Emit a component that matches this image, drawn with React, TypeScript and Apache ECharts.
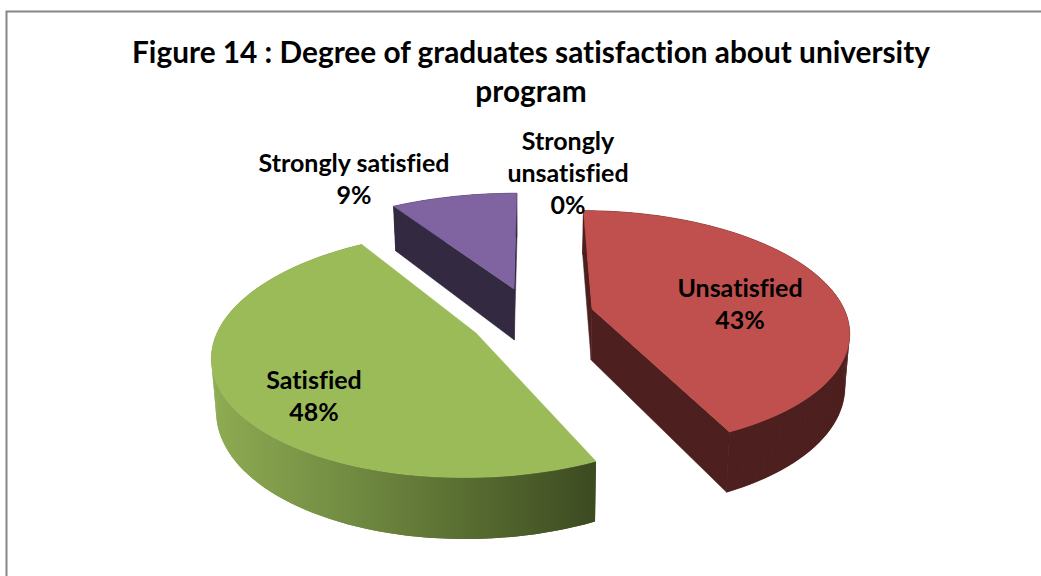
import React, { useEffect, useRef } from "react";
import * as echarts from "echarts";

const categories = ["Strongly unsatisfied", "Unsatisfied", "Satisfied", "Strongly satisfied"];
const shares = [0, 43, 48, 9];
const labelLines = [["Strongly", "unsatisfied"], ["Unsatisfied"], ["Satisfied"], ["Strongly satisfied"]];
const titleText = "Figure 14 : Degree of graduates satisfaction about university\nprogram";

const topColors = ["#4F81BD", "#C0504D", "#9BBB59", "#8064A2"];
const wallColors: any[] = [
  "#254061",
  "#4D1F1E",
  {
    type: "linear", x: 212, y: 0, x2: 597, y2: 0, global: true,
    colorStops: [
      { offset: 0, color: "#8FAB52" },
      { offset: 0.35, color: "#728C42" },
      { offset: 0.7, color: "#55692F" },
      { offset: 1, color: "#3C4A20" },
    ],
  },
  "#332941",
];
const cutColors = ["#254061", "#4D1F1E", "#3C4A20", "#332941"];
const labelAnchors = [[568, 172], [740, 303], [314, 395], [354, 178]];

// Exploded position and on-screen size of each wedge (perspective makes nearer wedges larger).
const wedgeCentres = [[533, 318], [592, 309], [476, 333], [514, 289]];
const wedgeRadiusX = [262, 252, 259, 262];
const wedgeRadiusY = [112, 115, 120, 112];
const PERSP = 0.17, DEPTH = 51, VX = 533, BASE_SCALE = 0.985;
const TOTAL = shares.reduce((a, b) => a + b, 0);

function project(i: number, deg: number, r: number, low: boolean): number[] {
  const [ax, ay] = wedgeCentres[i];
  const t = (deg * Math.PI) / 180;
  const u = Math.sin(t) * r;
  const v = -Math.cos(t) * r;
  const s = 1 / (1 - PERSP * v);
  let x = ax + wedgeRadiusX[i] * u * s + (ax - VX) * (s - 1);
  let y = ay + wedgeRadiusY[i] * v * s;
  if (low) {
    y += DEPTH * s;
    x = VX + (x - VX) * BASE_SCALE;
  }
  return [x, y];
}

function renderSlice(params: any, api: any) {
  const i = params.dataIndex;
  const value = api.value(0);
  const startShare = shares.slice(0, i).reduce((a, b) => a + b, 0);
  const a0 = (startShare / TOTAL) * 360;
  const a1 = ((startShare + value) / TOTAL) * 360;
  const children: any[] = [];
  if (value > 0) {
    const arcTop: number[][] = [];
    const arcLow: number[][] = [];
    const steps = Math.max(8, Math.round((a1 - a0) / 2));
    for (let k = 0; k <= steps; k++) {
      const d = a0 + ((a1 - a0) * k) / steps;
      arcTop.push(project(i, d, 1, false));
      arcLow.push(project(i, d, 1, true));
    }
    const apexTop = project(i, 0, 0, false);
    const apexLow = project(i, 0, 0, true);
    const poly = (points: number[][], fill: any, stroked = true) => ({
      type: "polygon",
      shape: { points },
      style: stroked ? { fill, stroke: fill, lineWidth: 0.5 } : { fill },
    });
    const cross = (outer: number[]) =>
      (apexTop[0] - outer[0]) * (apexLow[1] - apexTop[1]) - (apexTop[1] - outer[1]) * (apexLow[0] - apexTop[0]);
    if (cross(arcTop[0]) > 100) children.push(poly([arcTop[0], apexTop, apexLow, arcLow[0]], cutColors[i]));
    if (cross(arcTop[steps]) < -100) children.push(poly([arcTop[steps], apexTop, apexLow, arcLow[steps]], cutColors[i]));
    children.push(poly([...arcTop, ...arcLow.slice().reverse()], wallColors[i], typeof wallColors[i] === "string"));
    for (let k = 0; k < steps; k++) {
      children.push(poly([arcTop[k], arcTop[k + 1], arcLow[k + 1], arcLow[k]], wallColors[i], false));
    }
    children.push(poly([apexTop, ...arcTop], topColors[i]));
  }
  const [tx, ty] = labelAnchors[i];
  children.push({
    type: "text",
    z2: 100,
    style: {
      text: [...labelLines[i], value + "%"].join("\n"),
      x: tx,
      y: ty,
      align: "center",
      verticalAlign: "middle",
      fontFamily: "Lato",
      fontWeight: "bold",
      fontSize: 25,
      lineHeight: 32,
      fill: "#000000",
    },
  });
  return { type: "group", children };
}

export default function App() {
  const ref = useRef<HTMLDivElement>(null);
  useEffect(() => {
    document.body.style.margin = "0";
    document.body.style.background = "#ffffff";
    const chart = echarts.init(ref.current!, null, { renderer: "svg" });
    chart.setOption({
      animation: false,
      backgroundColor: "#ffffff",
      title: {
        text: titleText,
        left: 526,
        top: 27,
        textAlign: "center",
        textStyle: {
          fontFamily: "Lato",
          fontWeight: "bold",
          fontSize: 29.8,
          lineHeight: 39,
          color: "#000000",
        },
      },
      graphic: [
        {
          type: "polyline",
          shape: { points: [[6.5, 576], [6.5, 11.5], [1041, 11.5]] },
          style: { stroke: "#868686", lineWidth: 2, fill: "none" },
          silent: true,
        },
      ],
      series: [
        {
          type: "custom",
          coordinateSystem: "none",
          silent: true,
          renderItem: renderSlice,
          data: shares.map((v, i) => ({ name: categories[i], value: [v] })),
        },
      ],
    });
    return () => chart.dispose();
  }, []);
  return <div ref={ref} style={{ width: 1041, height: 576, overflow: "hidden", fontVariantLigatures: "none" }} />;
}
